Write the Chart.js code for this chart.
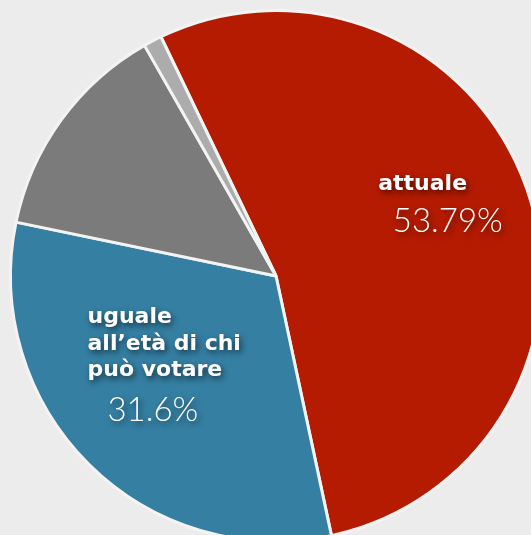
<!DOCTYPE html>
<html>
<head>
<meta charset="utf-8">
<script src="https://cdn.jsdelivr.net/npm/chart.js@4"></script>
<style>
  html, body { margin: 0; padding: 0; background: #ececec; overflow: hidden; }
  #wrap { position: absolute; left: 0; top: 0; width: 552px; height: 552px; }
</style>
</head>
<body>
<div id="wrap"><canvas id="pieChart" width="552" height="552"></canvas></div>
<script>
// Pie: share of answers (slices clockwise from the red one)
const categories = ['attuale', 'uguale all\u2019età di chi può votare', 'altro', 'non so'];
const shares = [53.79, 31.6, 13.5, 1.11];
const sliceColors = ['#b51b00', '#357fa3', '#7b7b7b', '#acacac'];

// label text shown on the two big slices
const labelLines = [['attuale'], ['uguale', 'all\u2019età di chi', 'può votare']];
const labelValues = ['53.79%', '31.6%'];

// offsets from the pie centre, as a fraction of the radius
const labelSpots = [
  { x: 0.385, y: -0.325, vx: 0.44, vy: -0.165, line: 26.5 },
  { x: -0.71, y: 0.178, vx: -0.635, vy: 0.545, line: 26.5 }
];

const pieLabels = {
  id: 'pieLabels',
  afterDatasetsDraw(chart) {
    const arc = chart.getDatasetMeta(0).data[0];
    const cx = arc.x, cy = arc.y, r = arc.outerRadius;
    const c = chart.ctx;
    c.save();
    c.fillStyle = '#ffffff';
    c.textAlign = 'left';
    c.textBaseline = 'alphabetic';
    c.shadowColor = 'rgba(0,0,0,0.6)';
    c.shadowBlur = 6;
    c.shadowOffsetX = 2;
    c.shadowOffsetY = 3;
    labelSpots.forEach((s, i) => {
      c.font = 'bold 22px "DejaVu Sans", sans-serif';
      labelLines[i].forEach((ln, j) => {
        c.fillText(ln, cx + s.x * r, cy + s.y * r + j * s.line);
      });
      c.font = '300 33px Lato, "Open Sans", sans-serif';
      c.fillText(labelValues[i], cx + s.vx * r, cy + s.vy * r);
    });
    c.restore();
  }
};

new Chart(document.getElementById('pieChart'), {
  type: 'pie',
  data: {
    labels: categories,
    datasets: [{
      data: shares,
      backgroundColor: sliceColors,
      borderColor: '#f3f3f3',
      borderWidth: 3
    }]
  },
  options: {
    responsive: false,
    animation: false,
    rotation: -25.7,
    layout: { padding: 9 },
    plugins: {
      legend: { display: false },
      tooltip: { enabled: false }
    }
  },
  plugins: [pieLabels]
});
</script>
</body>
</html>
